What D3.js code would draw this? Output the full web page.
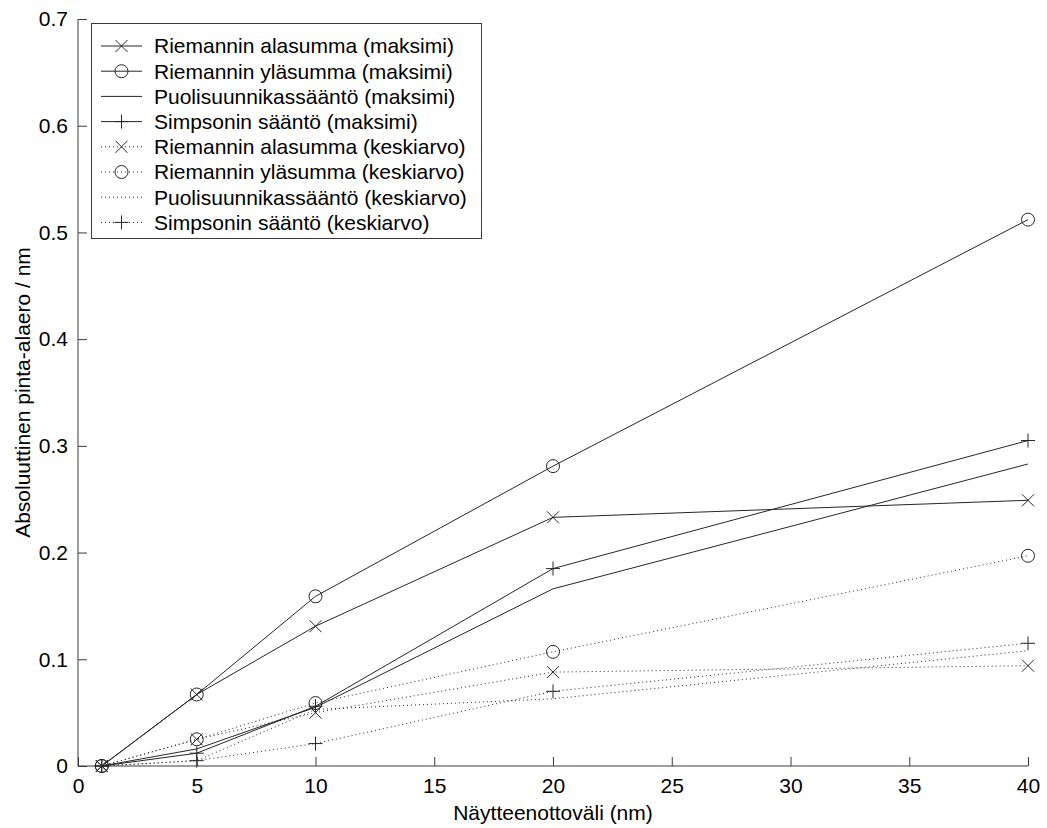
<!DOCTYPE html>
<html><head><meta charset="utf-8">
<script src="https://cdn.jsdelivr.net/npm/d3@7"></script>
<style>body{margin:0;background:#fff}svg{display:block}text{font-family:"Liberation Sans",Arial,sans-serif;fill:#000}</style>
</head><body>
<svg id="c" width="1047" height="828"></svg>
<script>
const xValues = [1, 5, 10, 20, 40];
const alaMax  = [0, 0.067, 0.131, 0.233, 0.249];
const ylaMax  = [0, 0.067, 0.159, 0.281, 0.512];
const trapMax = [0, 0.016, 0.055, 0.166, 0.283];
const simpMax = [0, 0.012, 0.056, 0.185, 0.305];
const alaMean  = [0, 0.025, 0.050, 0.088, 0.094];
const ylaMean  = [0, 0.025, 0.059, 0.107, 0.197];
const trapMean = [0, 0.005, 0.053, 0.063, 0.108];
const simpMean = [0, 0.005, 0.021, 0.070, 0.115];
const seriesNames = [
  "Riemannin alasumma (maksimi)","Riemannin yläsumma (maksimi)",
  "Puolisuunnikassääntö (maksimi)","Simpsonin sääntö (maksimi)",
  "Riemannin alasumma (keskiarvo)","Riemannin yläsumma (keskiarvo)",
  "Puolisuunnikassääntö (keskiarvo)","Simpsonin sääntö (keskiarvo)"];
const xTicks = [0,5,10,15,20,25,30,35,40];
const yTicks = [0,0.1,0.2,0.3,0.4,0.5,0.6,0.7];
const xLabel = "Näytteenottoväli (nm)";
const yLabel = "Absoluuttinen pinta-alaero / nm";

const series = [
  {name: seriesNames[0], v: alaMax, m: "x", dot: false},
  {name: seriesNames[1], v: ylaMax, m: "o", dot: false},
  {name: seriesNames[2], v: trapMax, m: null, dot: false},
  {name: seriesNames[3], v: simpMax, m: "+", dot: false},
  {name: seriesNames[4], v: alaMean, m: "x", dot: true},
  {name: seriesNames[5], v: ylaMean, m: "o", dot: true},
  {name: seriesNames[6], v: trapMean, m: null, dot: true},
  {name: seriesNames[7], v: simpMean, m: "+", dot: true}
];

const svg = d3.select("#c");
const L = 78, R = 1028, T = 19, B = 766;
const x = d3.scaleLinear().domain([0,40]).range([L,R]);
const y = d3.scaleLinear().domain([0,0.7]).range([B,T]);
const ink = "#262626", axisInk = "#3a3a3a";

// axes
const gx = svg.append("g").attr("transform",`translate(0,${B})`)
  .call(d3.axisBottom(x).tickValues(xTicks).tickSize(-9).tickPadding(14).tickFormat(d3.format("d")));
const gy = svg.append("g").attr("transform",`translate(${L},0)`)
  .call(d3.axisLeft(y).tickValues(yTicks).tickSize(-9).tickPadding(10).tickFormat(d => d===0 ? "0" : d3.format(".1f")(d)));
[gx,gy].forEach(g => {
  g.select(".domain").attr("stroke",axisInk).attr("d", null);
  g.selectAll(".tick line").attr("stroke",axisInk);
  g.selectAll("text").style("font-size","21px").attr("fill","#000");
});
gx.select(".domain").attr("d",`M${L},0H${R}`);
gy.select(".domain").attr("d",`M0,${T}V${B}`);
gx.selectAll(".tick text").attr("dy","0.71em").attr("y",12);

// labels
svg.append("text").attr("x",(L+R)/2).attr("y",820).attr("text-anchor","middle")
  .style("font-size","21px").text(xLabel);
svg.append("text").attr("transform",`translate(30,${(T+B)/2}) rotate(-90)`)
  .attr("text-anchor","middle").style("font-size","21px").text(yLabel);

function marker(g, type, cx, cy){
  const s = 6;
  if (type === "x") {
    g.append("path").attr("d",`M${cx-s},${cy-s}L${cx+s},${cy+s}M${cx-s},${cy+s}L${cx+s},${cy-s}`)
      .attr("stroke",ink).attr("fill","none");
  } else if (type === "o") {
    g.append("circle").attr("cx",cx).attr("cy",cy).attr("r",6.5)
      .attr("stroke",ink).attr("fill","none");
  } else if (type === "+") {
    g.append("path").attr("d",`M${cx-7},${cy}L${cx+7},${cy}M${cx},${cy-7}L${cx},${cy+7}`)
      .attr("stroke",ink).attr("fill","none");
  }
}

const line = d3.line().x(d => x(d[0])).y(d => y(d[1]));
series.forEach(s => {
  const g = svg.append("g");
  const pts = xValues.map((xv,i) => [xv, s.v[i]]);
  g.append("path").attr("d", line(pts)).attr("fill","none").attr("stroke",ink)
    .attr("stroke-width",1).attr("stroke-dasharray", s.dot ? "1,3" : null);
  if (s.m) pts.forEach(p => marker(g, s.m, x(p[0]), y(p[1])));
});

// legend
const lg = svg.append("g");
lg.append("rect").attr("x",91.5).attr("y",23.5).attr("width",390).attr("height",215)
  .attr("fill","#fff").attr("stroke",axisInk);
series.forEach((s,i) => {
  const cy = 46 + i*25.2;
  lg.append("path").attr("d",`M101,${cy}H142`).attr("stroke",ink).attr("fill","none")
    .attr("stroke-dasharray", s.dot ? "1,3" : null);
  if (s.m) marker(lg, s.m, 121.5, cy);
  lg.append("text").attr("x",154).attr("y",cy).attr("dy","0.35em")
    .style("font-size","21px").text(s.name);
});
</script>
</body></html>
